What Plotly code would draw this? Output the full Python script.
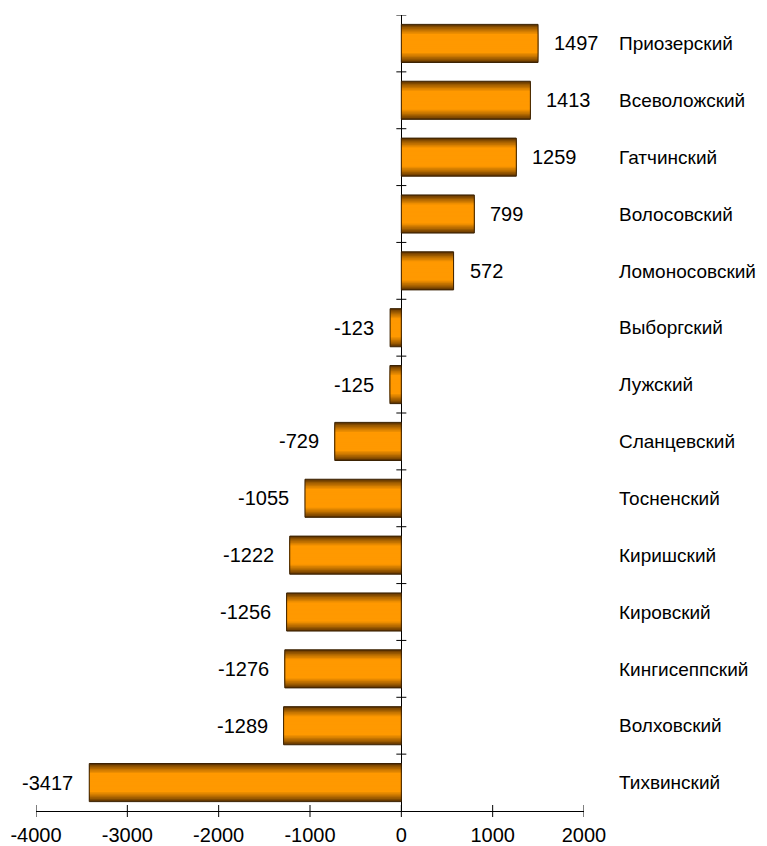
import plotly.graph_objects as go

districts = ["Приозерский", "Всеволожский", "Гатчинский", "Волосовский", "Ломоносовский",
             "Выборгский", "Лужский", "Сланцевский", "Тосненский", "Киришский",
             "Кировский", "Кингисеппский", "Волховский", "Тихвинский"]
values = [1497, 1413, 1259, 799, 572, -123, -125, -729, -1055, -1222, -1256, -1276, -1289, -3417]
x_ticks = [-4000, -3000, -2000, -1000, 0, 1000, 2000]

FONT = "Arial, Liberation Sans, sans-serif"
FS = 20
BAR_W = 0.67

fig = go.Figure()

# gradient simulated with overlaid bars (dark edges -> bright center)
edge = (95, 52, 0)
mid = (255, 153, 0)
layers = 14
for k in range(layers):
    frac = 1 - k / layers
    w = BAR_W * frac
    t = min(1.0, (1 - frac) / 0.5)
    t = t ** 0.8
    c = tuple(int(edge[i] + (mid[i] - edge[i]) * t) for i in range(3))
    fig.add_trace(go.Bar(
        y=districts, x=values, orientation="h", width=w,
        marker=dict(color="rgb(%d,%d,%d)" % c, line=dict(width=0)),
        hoverinfo="skip", showlegend=False,
    ))
fig.add_trace(go.Bar(
    y=districts, x=values, orientation="h", width=BAR_W,
    marker=dict(color="rgba(0,0,0,0)", line=dict(color="#3a2000", width=1)),
    showlegend=False,
))

for d, v in zip(districts, values):
    fig.add_annotation(x=v, y=d, text=str(v), showarrow=False,
                       xanchor="left" if v > 0 else "right",
                       xshift=14 if v > 0 else -14,
                       font=dict(family=FONT, size=FS, color="black"))

shapes = []
for xt in x_ticks:
    shapes.append(dict(type="line", xref="x", yref="paper", ysizemode="pixel", yanchor=0,
                       x0=xt, x1=xt, y0=-6, y1=6, line=dict(color="black", width=1)))
for i in range(len(districts)):
    shapes.append(dict(type="line", xref="x", yref="y", xsizemode="pixel", xanchor=0,
                       x0=-5, x1=5, y0=i - 0.5, y1=i - 0.5, line=dict(color="black", width=1)))
fig.update_layout(shapes=shapes)

fig.update_layout(
    width=759, height=838,
    margin=dict(l=28, r=183, t=7, b=35, autoexpand=False),
    plot_bgcolor="white", paper_bgcolor="white",
    barmode="overlay",
    font=dict(family=FONT, size=FS, color="black"),
    xaxis=dict(range=[-4000, 2000], tickvals=x_ticks, ticktext=[str(v) for v in x_ticks],
               ticks="", showgrid=False,
               showline=True, linecolor="black", linewidth=1,
               zeroline=True, zerolinecolor="black", zerolinewidth=1,
               tickfont=dict(family=FONT, size=FS), ticklabelstandoff=6),
    yaxis=dict(categoryorder="array", categoryarray=districts, range=[13.5, -0.5],
               side="right", showgrid=False, showline=False, zeroline=False, ticks="",
               ticklabelstandoff=34, tickfont=dict(family=FONT, size=19)),
)

fig.write_html("out.html")
